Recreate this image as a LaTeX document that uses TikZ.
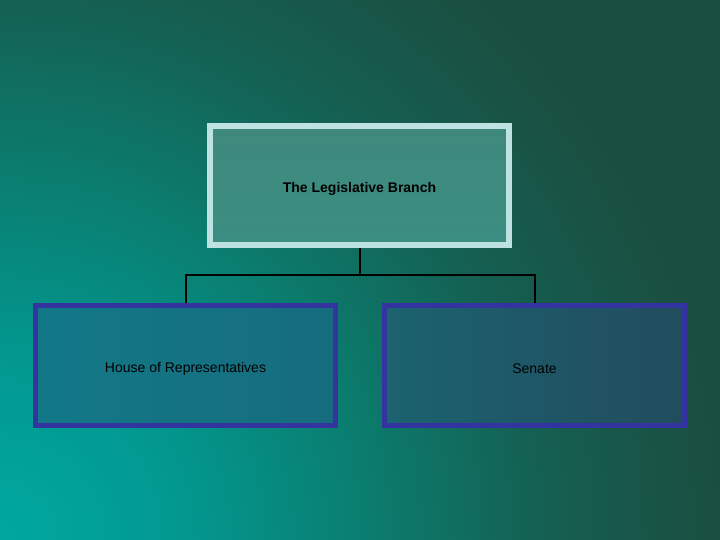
\documentclass[tikz,border=0pt]{standalone}
\usepackage{fontspec}
\setmainfont{Liberation Sans}
\definecolor{bgA}{HTML}{00A8A0}
\definecolor{bgB}{HTML}{029890}
\definecolor{bgC}{HTML}{0A7E70}
\definecolor{bgD}{HTML}{146052}
\definecolor{bgE}{HTML}{1A4E40}
\definecolor{topfill}{HTML}{3F887C}
\definecolor{topfillB}{HTML}{3C8E82}
\definecolor{topborder}{HTML}{BEE2E2}
\definecolor{blueborder}{HTML}{3434A0}
\definecolor{leftA}{HTML}{127887}
\definecolor{leftB}{HTML}{166C7E}
\definecolor{rightA}{HTML}{1C6270}
\definecolor{rightB}{HTML}{214C5E}
\pgfdeclareradialshading{bgshade}{\pgfpointorigin}{color(0bp)=(bgA); color(6.25bp)=(bgB); color(12.5bp)=(bgC); color(18.75bp)=(bgD); color(25bp)=(bgE); color(50bp)=(bgE)}
\begin{document}
\begin{tikzpicture}[x=1pt,y=-1pt,
  topbox/.style={draw=topborder, line width=6pt, top color=topfill, bottom color=topfillB, minimum width=299pt, minimum height=119pt, inner sep=0pt, font=\fontsize{14}{16}\selectfont\bfseries, text=black},
  subbox/.style={draw=blueborder, line width=5pt, minimum width=300pt, minimum height=120pt, inner sep=0pt, font=\fontsize{14}{16}\selectfont, text=black},
  link/.style={draw=black, line width=2pt}]
\useasboundingbox (0,0) rectangle (720,540);
\begin{scope}
\clip (0,0) rectangle (720,540);
\fill[bgE] (0,0) rectangle (720,540);
\shade[shading=bgshade] (0,540) circle (720);
\end{scope}
\node[topbox] (top) at (359.5,185.5) {\raisebox{-3pt}[\height][\depth]{The Legislative Branch}};
\node[subbox, left color=leftA, right color=leftB] (house) at (185.5,365.5) {\raisebox{-3pt}[\height][\depth]{House of Representatives}};
\node[subbox, left color=rightA, right color=rightB] (senate) at (534.5,365.5) {\raisebox{-3pt}[\height][\depth]{Senate}};
\coordinate (j) at (359.5,275);
\draw[link] (top.south) -- (j);
\draw[link] (j) -| (house.north);
\draw[link] (j) -| (senate.north);
\end{tikzpicture}
\end{document}
